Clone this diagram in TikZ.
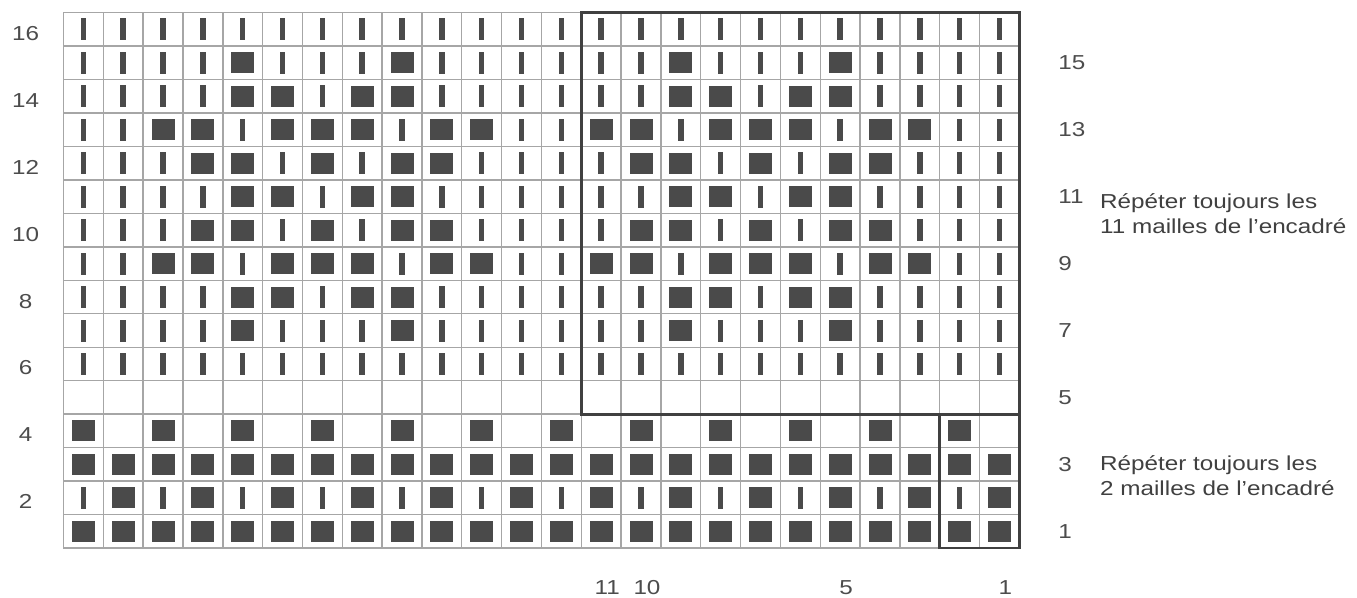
\documentclass[tikz,border=0pt]{standalone}
\usepackage{fontspec}
\setmainfont{Liberation Sans}[FakeStretch=1.2]
\definecolor{ink}{HTML}{4A4A4A}
\tikzset{
  stitchbar/.style={fill=ink, inner sep=0pt, minimum width=0.11cm, minimum height=0.44cm},
  stitchbox/.style={fill=ink, inner sep=0pt, minimum width=0.46cm, minimum height=0.42cm},
  gridline/.style={draw=black!35, line width=0.8pt},
  boxline/.style={draw=black!75, line width=1.7pt},
  rownum/.style={text=black!70, inner sep=0pt, font=\fontsize{11.5}{14}\selectfont},
  remark/.style={text=black!75, align=left, inner sep=0pt, font=\fontsize{11.5}{14.2}\selectfont},
}
% one row of the motif: 11 stitches, col 11 -> col 1 (1 = filled)
\newcommand{\chartrow}[2]{%
  \foreach \s [count=\i] in {#2} {%
    \ifnum\s=1 \def\kind{stitchbox}\else\def\kind{stitchbar}\fi
    \pgfmathtruncatemacro{\ca}{12-\i}
    \pgfmathtruncatemacro{\cb}{23-\i}
    \node[\kind] (s#1-\ca) at (24.5-\ca,#1-0.5) {};
    \node[\kind] (s#1-\cb) at (24.5-\cb,#1-0.5) {};
    \ifnum\i>9
      \pgfmathtruncatemacro{\cc}{34-\i}
      \node[\kind] (s#1-\cc) at (24.5-\cc,#1-0.5) {};
    \fi
  }%
}
\begin{document}
\begin{tikzpicture}[x=0.7966cm, y=0.6692cm]
\useasboundingbox (-1.594,-1.494) rectangle (32.476,16.378);
\draw[gridline, step=1] (0,0) grid (24,16);
% rows 1 to 4
\foreach \c in {1,...,24} {
  \node[stitchbox] (s1-\c) at (24.5-\c,0.5) {};
  \node[stitchbox] (s3-\c) at (24.5-\c,2.5) {};
  \ifodd\c
    \node[stitchbox] (s2-\c) at (24.5-\c,1.5) {};
  \else
    \node[stitchbar] (s2-\c) at (24.5-\c,1.5) {};
    \node[stitchbox] (s4-\c) at (24.5-\c,3.5) {};
  \fi
}
% rows 6 to 16
\chartrow{6}{0,0,0,0,0,0,0,0,0,0,0}
\chartrow{7}{0,0,1,0,0,0,1,0,0,0,0}
\chartrow{8}{0,0,1,1,0,1,1,0,0,0,0}
\chartrow{9}{1,1,0,1,1,1,0,1,1,0,0}
\chartrow{10}{0,1,1,0,1,0,1,1,0,0,0}
\chartrow{11}{0,0,1,1,0,1,1,0,0,0,0}
\chartrow{12}{0,1,1,0,1,0,1,1,0,0,0}
\chartrow{13}{1,1,0,1,1,1,0,1,1,0,0}
\chartrow{14}{0,0,1,1,0,1,1,0,0,0,0}
\chartrow{15}{0,0,1,0,0,0,1,0,0,0,0}
\chartrow{16}{0,0,0,0,0,0,0,0,0,0,0}
% repeat boxes
\draw[boxline] (13,4) rectangle (24,16);
\draw[boxline] (22,0) rectangle (24,4);
% row and stitch numbers
\foreach \r in {2,4,...,16}
  \node[rownum] (left\r) at (-0.95,\r-0.62) {\r};
\foreach \r in {1,3,...,15}
  \node[rownum, anchor=west] (right\r) at (24.97,\r-0.5) {\r};
\foreach \c in {1,5,10,11}
  \node[rownum] (col\c) at (24.65-\c,-1.18) {\c};
\node[remark, anchor=base west] (rep11) at (26.02,9.41) {Répéter toujours les\\11 mailles de l'encadré};
\node[remark, anchor=base west] (rep2) at (26.02,1.58) {Répéter toujours les\\2 mailles de l'encadré};
\end{tikzpicture}
\end{document}
